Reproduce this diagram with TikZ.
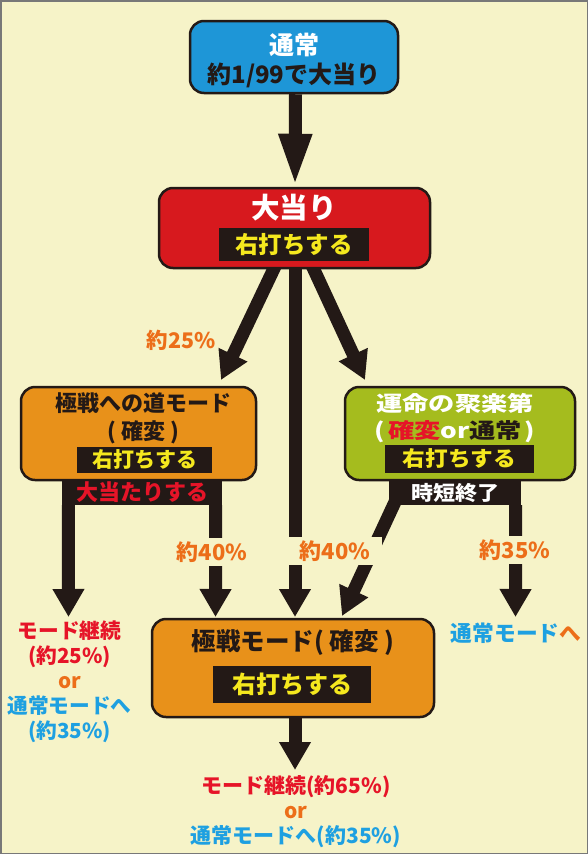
\documentclass[tikz,border=0pt]{standalone}
\usepackage{fontspec}
\setmainfont{Noto Sans CJK JP}
\usetikzlibrary{arrows.meta}
\definecolor{cream}{RGB}{246,243,200}
\definecolor{frame}{RGB}{120,120,120}
\definecolor{ink}{RGB}{35,25,22}
\definecolor{boxblue}{RGB}{30,150,215}
\definecolor{boxred}{RGB}{215,25,30}
\definecolor{boxorange}{RGB}{232,145,26}
\definecolor{boxgreen}{RGB}{165,188,30}
\definecolor{txtyellow}{RGB}{245,232,30}
\definecolor{txtorange}{RGB}{236,110,25}
\definecolor{txtred}{RGB}{230,20,40}
\definecolor{txtblue}{RGB}{30,160,225}
\pgfdeclarelayer{back}
\pgfdeclarelayer{bg}
\pgfsetlayers{back,bg,main}
\newcommand{\fsz}[1]{\fontsize{#1}{#1}\selectfont}
\tikzset{
  stagebox/.style={draw=ink, line width=2.5pt, rounded corners=14pt, inner sep=0pt},
  blackbar/.style={fill=ink, inner sep=0pt},
  txt/.style={inner sep=0pt, font=\bfseries},
  fat/.style={draw=ink, line width=13pt},
  tipA/.style={-{Triangle[width=30pt,length=28pt]}},
  tipLong/.style={-{Triangle[width=30pt,length=53pt]}},
}
\begin{document}
\begin{tikzpicture}[x=1pt,y=-1pt]
\begin{pgfonlayer}{back}
\fill[cream] (0,0) rectangle (588,854);
\draw[frame, line width=1.5pt] (0.75,0.75) rectangle (587.25,853.25);
\end{pgfonlayer}
\useasboundingbox (0,0) rectangle (588,854);

% box 1
\node[stagebox, fill=boxblue, minimum width=208pt, minimum height=72pt] (b1) at (294,57) {};
\node[txt, text=white, font=\bfseries\fsz{25}] (t1a) at (294,45) {通常};
\node[txt, text=ink, font=\bfseries\fsz{24}] (t1b) at (294,75) {約1/99で大当り};

% box 2
\node[stagebox, fill=boxred, minimum width=271pt, minimum height=80pt] (b2) at (294.5,228) {};
\node[txt, text=white, font=\bfseries\fsz{28.5}] (t2a) at (294,208) {大当り};
\node[blackbar, minimum width=150pt, minimum height=33pt, text=txtyellow, font=\bfseries\fsz{23.5}] (k2) at (294,244.5) {右打ちする};

% box 3
\node[stagebox, fill=boxorange, minimum width=235pt, minimum height=93pt] (b3) at (138.5,433.5) {};
\node[txt, text=ink, font=\bfseries\fsz{22}] (t3a) at (143,403) {極戦への道モード};
\node[txt, text=ink, font=\bfseries\fsz{22}] (t3b) at (143,432) {( 確変 )};
\node[blackbar, minimum width=135pt, minimum height=26pt, text=txtyellow, font=\bfseries\fsz{21}] (k3) at (144.5,460) {右打ちする};
\node[blackbar, minimum width=160pt, minimum height=25pt, text=txtred, font=\bfseries\fsz{22}] (r3) at (142,492.5) {大当たりする};

% box 4
\node[stagebox, fill=boxgreen, minimum width=230pt, minimum height=93pt] (b4) at (460,433.5) {};
\node[txt, text=white, font=\bfseries\fsz{21}\addfontfeature{FakeStretch=1.25}] (t4a) at (455,403) {運命の聚楽第};
\node[txt, text=white, font=\bfseries\fsz{21}\addfontfeature{FakeStretch=1.25}] (t4b) at (455,432) {(\hspace{3pt}\textcolor{txtred}{確変}or\textcolor{ink}{通常}\hspace{3pt})};
\node[blackbar, minimum width=149pt, minimum height=28pt, text=txtyellow, font=\bfseries\fsz{21}\addfontfeature{FakeStretch=1.08}] (k4) at (459.5,459) {右打ちする};
\node[blackbar, minimum width=132pt, minimum height=25pt, text=white, font=\bfseries\fsz{20}\addfontfeature{FakeStretch=1.1}] (r4) at (455,492.5) {時短終了};

% box 5
\node[stagebox, fill=boxorange, minimum width=282pt, minimum height=98pt] (b5) at (293,668) {};
\node[txt, text=ink, font=\bfseries\fsz{24.5}] (t5a) at (293,643) {極戦モード( 確変 )};
\node[blackbar, minimum width=158pt, minimum height=37pt, text=txtyellow, font=\bfseries\fsz{24}] (k5) at (292,684.5) {右打ちする};

% percentage labels
\node[txt, text=txtorange, font=\bfseries\fsz{21.5}] (l25) at (181,340) {約25\%};
\node[txt, fill=cream, inner ysep=4pt, inner xsep=2pt, text=txtorange, font=\bfseries\fsz{22}] (l40a) at (212,552) {約40\%};
\node[fill=cream, inner ysep=4pt, inner xsep=12pt, text=txtorange, font=\bfseries\fsz{22}] (l40b) at (335,551) {約40\%};
\node[txt, fill=cream, inner ysep=4pt, inner xsep=2pt, text=txtorange, font=\bfseries\fsz{22}] (l35) at (515,550) {約35\%};

% outcomes
\node[txt, align=center, font=\bfseries\fontsize{20.7}{25}\selectfont] (oL) at (69.5,682)
  {\textcolor{txtred}{モード継続}\\\textcolor{txtred}{(約25\%)}\\\textcolor{txtorange}{or}\\\textcolor{txtblue}{通常モードへ}\\\textcolor{txtblue}{(約35\%)}};
\node[txt, font=\bfseries\fsz{21.7}] (oR) at (516,633) {\textcolor{txtblue}{通常モード}\textcolor{txtorange}{へ}};
\node[txt, align=center, font=\bfseries\fontsize{21}{25}\selectfont] (oB) at (296,812)
  {\textcolor{txtred}{モード継続(約65\%)}\\\textcolor{txtorange}{or}\\\textcolor{txtblue}{通常モードへ(約35\%)}};

% connector end points
\coordinate (s2L) at ([xshift=-18pt,yshift=6pt]b2.south);
\coordinate (s2C) at ([xshift=0.5pt]b2.south);
\coordinate (s2R) at ([xshift=16.5pt,yshift=6pt]b2.south);
\coordinate (e3) at (221,380);
\coordinate (e4) at (365,380);
\coordinate (eL) at (68.5,617);
\coordinate (eM) at (215.5,617);
\coordinate (eC) at (295,617);
\coordinate (eD) at (342,616);
\coordinate (eR) at (515.5,617);
\coordinate (eB) at (295,770);

\begin{pgfonlayer}{bg}
\draw[fat, tipLong] ([xshift=1.5pt]b1.south) -- ([xshift=0.5pt]b2.north);
\draw[fat, tipA] (s2L) -- (e3);
\draw[fat, tipA] (s2C) -- (eC);
\draw[fat, tipA] (s2R) -- (e4);
\draw[fat, tipA] ([xshift=6.5pt]r3.south west) -- (eL);
\draw[fat, tipA] ([xshift=-6.5pt]r3.south east) -- (eM);
\draw[fat, tipA] ([xshift=7pt,yshift=5pt]r4.south west) -- (eD);
\draw[fat, tipA] ([xshift=-5.5pt]r4.south east) -- (eR);
\draw[fat, tipA] ([xshift=2pt]b5.south) -- (eB);
\end{pgfonlayer}
\end{tikzpicture}
\end{document}
